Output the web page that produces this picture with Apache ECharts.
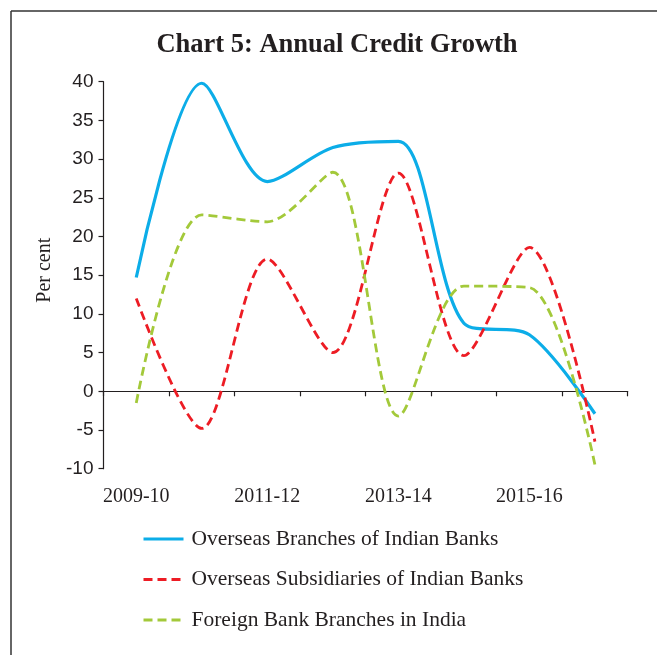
<!DOCTYPE html>
<html>
<head>
<meta charset="utf-8">
<script src="https://cdn.jsdelivr.net/npm/echarts@6/dist/echarts.min.js"></script>
<style>
  html, body { margin: 0; padding: 0; background: #fff; }
  #main { width: 657px; height: 655px; }
</style>
</head>
<body>
<div id="main"></div>
<script>
// years on the x axis
var years = ['2009-10', '2010-11', '2011-12', '2012-13', '2013-14', '2014-15', '2015-16', '2016-17'];
// per cent growth
var overseasBranches = [14.7, 39.8, 27.1, 31.5, 32.3, 8.8, 7.3, -2.9];
var overseasSubsidiaries = [12.0, -4.8, 17.1, 5.0, 28.2, 4.6, 18.6, -6.5];
var foreignBranches = [-1.5, 22.8, 21.9, 28.3, -3.2, 13.6, 13.4, -9.5];
var yTicks = [-10, 40, 5]; // min, max, step

var chartDom = document.getElementById('main');
var myChart = echarts.init(chartDom);
var option;

var serif = '"Liberation Serif", "DejaVu Serif", serif';
var textColor = '#231f20';

option = {
  animation: false,
  title: {
    text: 'Chart 5: Annual Credit Growth',
    left: 332,
    top: 27,
    textAlign: 'center',
    textStyle: {
      fontFamily: serif,
      fontWeight: 'bold',
      fontSize: 26.5,
      color: textColor
    }
  },
  // frame round the figure (only top and left edges show)
  graphic: [
    { type: 'line', shape: { x1: 11, y1: 11, x2: 657, y2: 11 }, style: { stroke: '#333', lineWidth: 1.5 } },
    { type: 'line', shape: { x1: 11, y1: 11, x2: 11, y2: 655 }, style: { stroke: '#333', lineWidth: 1.5 } }
  ],
  legend: {
    orient: 'vertical',
    left: 142,
    top: 528,
    padding: 0,
    itemWidth: 40,
    itemHeight: 14,
    itemGap: 18.5,
    itemStyle: { opacity: 0 },
    lineStyle: { width: 3 },
    textStyle: {
      fontFamily: serif,
      fontSize: 21.5,
      lineHeight: 22,
      color: textColor,
      padding: [0, 0, 0, 3]
    },
    data: ['Overseas Branches of Indian Banks', 'Overseas Subsidiaries of Indian Banks', 'Foreign Bank Branches in India']
  },
  grid: {
    left: 103.5,
    right: 29.3,
    top: 81.7,
    bottom: 186.3
  },
  xAxis: [
    {
      type: 'category',
      data: years,
      boundaryGap: true,
      axisLine: { onZero: true, lineStyle: { color: '#231f20', width: 1.2 } },
      axisTick: { show: true, interval: 0, length: 5, lineStyle: { color: '#231f20', width: 1.2 } },
      axisLabel: { show: false }
    },
    {
      // labels sit under the plot, not on the zero line
      type: 'category',
      data: years,
      boundaryGap: true,
      position: 'bottom',
      axisLine: { show: false, onZero: false },
      axisTick: { show: false },
      axisLabel: {
        interval: 1,
        margin: 18,
        fontFamily: serif,
        fontSize: 20,
        color: textColor
      }
    }
  ],
  yAxis: {
    type: 'value',
    min: yTicks[0],
    max: yTicks[1],
    interval: yTicks[2],
    name: 'Per cent',
    nameLocation: 'middle',
    nameRotate: 90,
    nameGap: 43,
    nameTextStyle: {
      fontFamily: serif,
      fontSize: 20,
      color: textColor,
      padding: [0, 0, 0, 10]
    },
    axisLine: { show: true, lineStyle: { color: '#231f20', width: 1.2 } },
    axisTick: { show: true, length: 5, lineStyle: { color: '#231f20', width: 1.2 } },
    splitLine: { show: false },
    axisLabel: {
      margin: 10,
      fontFamily: '"Liberation Sans", sans-serif',
      fontSize: 19,
      color: textColor
    }
  },
  series: [
    {
      name: 'Overseas Branches of Indian Banks',
      type: 'line',
      smooth: 0.3,
      symbol: 'none',
      data: overseasBranches,
      lineStyle: { color: '#0cade8', width: 3.2 },
      itemStyle: { color: '#0cade8' }
    },
    {
      name: 'Overseas Subsidiaries of Indian Banks',
      type: 'line',
      smooth: 0.3,
      symbol: 'none',
      data: overseasSubsidiaries,
      lineStyle: { color: '#ed1c24', width: 2.8, type: [9, 5] },
      itemStyle: { color: '#ed1c24' }
    },
    {
      name: 'Foreign Bank Branches in India',
      type: 'line',
      smooth: 0.3,
      symbol: 'none',
      data: foreignBranches,
      lineStyle: { color: '#a3c93a', width: 2.8, type: [9, 5] },
      itemStyle: { color: '#a3c93a' }
    }
  ]
};

option && myChart.setOption(option);
</script>
</body>
</html>
